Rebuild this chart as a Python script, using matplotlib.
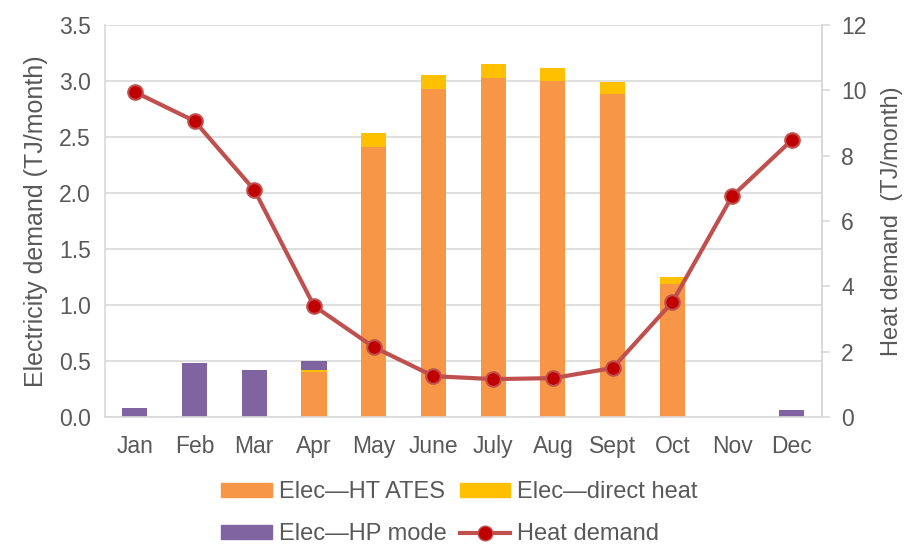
import matplotlib
matplotlib.use("Agg")
import matplotlib.pyplot as plt
import numpy as np
from matplotlib.lines import Line2D
from matplotlib.patches import Patch

plt.rcParams['font.family'] = ['Liberation Sans', 'DejaVu Sans']

months = ["Jan", "Feb", "Mar", "Apr", "May", "June", "July", "Aug", "Sept", "Oct", "Nov", "Dec"]
elec_ates = [0, 0, 0, 0.40, 2.41, 2.93, 3.03, 3.00, 2.88, 1.19, 0, 0]
elec_direct = [0, 0, 0, 0.02, 0.13, 0.12, 0.12, 0.12, 0.11, 0.06, 0, 0]
elec_hp = [0.08, 0.48, 0.42, 0.08, 0, 0, 0, 0, 0, 0, 0, 0.06]
heat_demand = [9.95, 9.06, 6.95, 3.40, 2.14, 1.25, 1.16, 1.19, 1.50, 3.52, 6.76, 8.48]

c_ates = "#F79646"
c_direct = "#FFC000"
c_hp = "#8064A2"
c_line = "#C0504D"
c_marker = "#C00000"
txt = "#595959"
grid = "#D9D9D9"

fig = plt.figure(figsize=(9.08, 5.5), dpi=100)
ax = fig.add_axes([0.1156, 0.2418, 0.905 - 0.1156, 0.9545 - 0.2418])
x = np.arange(len(months))
w = 0.42
a = np.array(elec_ates)
d = np.array(elec_direct)
h = np.array(elec_hp)
ax.bar(x, a, w, color=c_ates, zorder=2)
ax.bar(x, d, w, bottom=a, color=c_direct, zorder=2)
ax.bar(x, h, w, bottom=a + d, color=c_hp, zorder=2)
ax.set_ylim(0, 3.5)
ax.set_xlim(-0.5, 11.5)
ax.set_yticks(np.arange(0, 3.51, 0.5))
ax.set_yticklabels([f"{v:.1f}" for v in np.arange(0, 3.51, 0.5)])
ax.set_xticks(x)
ax.set_xticklabels(months)
ax.yaxis.grid(True, color=grid, lw=1.2, zorder=0)
ax.set_axisbelow(True)
ax.spines["top"].set_visible(False)
for s in ["left", "bottom", "right"]:
    ax.spines[s].set_color(grid)
    ax.spines[s].set_linewidth(1.2)
ax.tick_params(axis='y', length=0, labelsize=16.5, colors=txt, pad=10)
ax.tick_params(axis='x', length=0, labelsize=16.5, colors=txt, pad=13)
ax.set_ylabel("Electricity demand (TJ/month)", fontsize=18, color=txt, labelpad=8)

ax2 = ax.twinx()
ax2.plot(x, heat_demand, color=c_line, lw=3, marker='o', markersize=10.5,
         markerfacecolor=c_marker, markeredgecolor=c_line, markeredgewidth=1.5, zorder=3)
ax2.set_ylim(0, 12)
ax2.set_yticks(np.arange(0, 13, 2))
for s in ["top", "left", "bottom"]:
    ax2.spines[s].set_visible(False)
ax2.spines["right"].set_color(grid)
ax2.spines["right"].set_linewidth(1.2)
ax2.tick_params(axis='y', length=6, width=1.2, color=grid, labelsize=16.5, labelcolor=txt, pad=8)
ax2.set_ylabel("Heat demand  (TJ/month)", fontsize=17, color=txt, labelpad=10)

handles = [Patch(color=c_ates, label="Elec\u2014HT ATES"),
           Patch(color=c_hp, label="Elec\u2014HP mode"),
           Patch(color=c_direct, label="Elec\u2014direct heat"),
           Line2D([0], [0], color=c_line, lw=3, marker='o', markersize=10.5,
                  markerfacecolor=c_marker, markeredgecolor=c_line, label="Heat demand")]
leg = fig.legend(handles=handles, loc='lower center', bbox_to_anchor=(0.506, -0.03), ncol=2,
                 frameon=False, fontsize=17, labelcolor=txt, handlelength=2.15,
                 handleheight=0.5, columnspacing=0.55, handletextpad=0.3, labelspacing=0.85)

fig.savefig("out.png", dpi=100)
